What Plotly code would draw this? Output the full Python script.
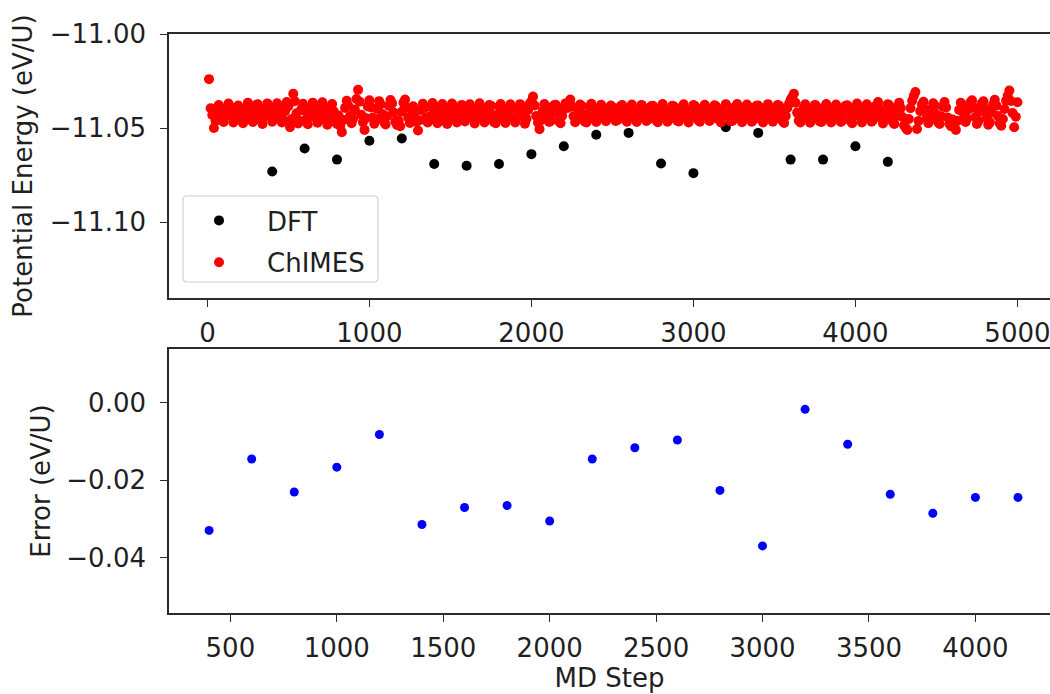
import plotly.graph_objects as go

# ---------------- data ----------------
dft_steps = [400, 600, 800, 1000, 1200, 1400, 1600, 1800, 2000, 2200,
             2400, 2600, 2800, 3000, 3200, 3400, 3600, 3800, 4000, 4200]
dft_energy = [-11.0731, -11.0609, -11.0668, -11.0568, -11.0556, -11.0691, -11.0701, -11.0691, -11.0639, -11.0597,
              -11.0536, -11.0526, -11.0689, -11.0740, -11.0496, -11.0526, -11.0668, -11.0668, -11.0597, -11.0680]

chimes_steps = list(range(10, 5001, 10))
chimes_energy = [
    -11.0240, -11.0395, -11.0430, -11.0500, -11.0462, -11.0418, -11.0378, -11.0401, -11.0447, -11.0468,
    -11.0440, -11.0392, -11.0370, -11.0385, -11.0432, -11.0471, -11.0455, -11.0412, -11.0380, -11.0398,
    -11.0446, -11.0474, -11.0437, -11.0390, -11.0366, -11.0402, -11.0451, -11.0468, -11.0427, -11.0379,
    -11.0373, -11.0415, -11.0460, -11.0478, -11.0440, -11.0396, -11.0369, -11.0388, -11.0436, -11.0466,
    -11.0449, -11.0405, -11.0368, -11.0380, -11.0428, -11.0470, -11.0458, -11.0410, -11.0362, -11.0384,
    -11.0495, -11.0452, -11.0318, -11.0358, -11.0421, -11.0476, -11.0463, -11.0400, -11.0371, -11.0409,
    -11.0455, -11.0480, -11.0438, -11.0387, -11.0365, -11.0398, -11.0447, -11.0472, -11.0430, -11.0376,
    -11.0363, -11.0406, -11.0459, -11.0483, -11.0441, -11.0390, -11.0372, -11.0411, -11.0466, -11.0479,
    -11.0433, -11.0489, -11.0522, -11.0457, -11.0393, -11.0355, -11.0382, -11.0436, -11.0475, -11.0450,
    -11.0402, -11.0346, -11.0297, -11.0360, -11.0429, -11.0469, -11.0510, -11.0448, -11.0385, -11.0352,
    -11.0390, -11.0444, -11.0477, -11.0452, -11.0398, -11.0357, -11.0374, -11.0425, -11.0468, -11.0481,
    -11.0437, -11.0382, -11.0351, -11.0369, -11.0418, -11.0466, -11.0484, -11.0460, -11.0490, -11.0413,
    -11.0366, -11.0348, -11.0392, -11.0446, -11.0473, -11.0435, -11.0384, -11.0417, -11.0468, -11.0513,
    -11.0459, -11.0404, -11.0371, -11.0393, -11.0445, -11.0470, -11.0439, -11.0386, -11.0367, -11.0412,
    -11.0458, -11.0474, -11.0431, -11.0383, -11.0372, -11.0414, -11.0462, -11.0478, -11.0442, -11.0394,
    -11.0370, -11.0401, -11.0450, -11.0471, -11.0436, -11.0388, -11.0377, -11.0420, -11.0465, -11.0447,
    -11.0403, -11.0374, -11.0396, -11.0443, -11.0476, -11.0452, -11.0405, -11.0368, -11.0389, -11.0438,
    -11.0470, -11.0457, -11.0411, -11.0378, -11.0381, -11.0429, -11.0469, -11.0475, -11.0432, -11.0386,
    -11.0372, -11.0408, -11.0455, -11.0473, -11.0439, -11.0395, -11.0374, -11.0399, -11.0448, -11.0470,
    -11.0446, -11.0400, -11.0373, -11.0392, -11.0440, -11.0477, -11.0451, -11.0404, -11.0370, -11.0358,
    -11.0333, -11.0380, -11.0436, -11.0471, -11.0506, -11.0458, -11.0409, -11.0372, -11.0385, -11.0430,
    -11.0468, -11.0461, -11.0416, -11.0379, -11.0376, -11.0421, -11.0463, -11.0474, -11.0435, -11.0391,
    -11.0369, -11.0394, -11.0371, -11.0348, -11.0386, -11.0437, -11.0469, -11.0452, -11.0407, -11.0375,
    -11.0382, -11.0427, -11.0466, -11.0471, -11.0430, -11.0387, -11.0371, -11.0406, -11.0452, -11.0468,
    -11.0441, -11.0397, -11.0376, -11.0393, -11.0439, -11.0464, -11.0449, -11.0408, -11.0380, -11.0389,
    -11.0428, -11.0462, -11.0458, -11.0419, -11.0384, -11.0378, -11.0417, -11.0456, -11.0467, -11.0433,
    -11.0394, -11.0375, -11.0401, -11.0445, -11.0468, -11.0446, -11.0403, -11.0377, -11.0391, -11.0434,
    -11.0463, -11.0455, -11.0415, -11.0383, -11.0382, -11.0422, -11.0460, -11.0469, -11.0431, -11.0390,
    -11.0372, -11.0399, -11.0442, -11.0467, -11.0450, -11.0410, -11.0381, -11.0386, -11.0426, -11.0461,
    -11.0465, -11.0429, -11.0389, -11.0374, -11.0403, -11.0446, -11.0470, -11.0447, -11.0404, -11.0378,
    -11.0383, -11.0423, -11.0459, -11.0466, -11.0432, -11.0392, -11.0376, -11.0398, -11.0440, -11.0463,
    -11.0451, -11.0412, -11.0379, -11.0384, -11.0421, -11.0458, -11.0471, -11.0438, -11.0396, -11.0373,
    -11.0387, -11.0430, -11.0464, -11.0462, -11.0424, -11.0385, -11.0372, -11.0405, -11.0448, -11.0469,
    -11.0443, -11.0402, -11.0375, -11.0388, -11.0433, -11.0467, -11.0457, -11.0416, -11.0381, -11.0380,
    -11.0419, -11.0456, -11.0470, -11.0441, -11.0399, -11.0373, -11.0392, -11.0437, -11.0466, -11.0452,
    -11.0411, -11.0378, -11.0382, -11.0425, -11.0463, -11.0473, -11.0436, -11.0393, -11.0371, -11.0350,
    -11.0335, -11.0318, -11.0366, -11.0418, -11.0460, -11.0470, -11.0439, -11.0395, -11.0374, -11.0401,
    -11.0447, -11.0472, -11.0450, -11.0406, -11.0377, -11.0386, -11.0429, -11.0465, -11.0468, -11.0427,
    -11.0388, -11.0372, -11.0404, -11.0449, -11.0471, -11.0445, -11.0400, -11.0375, -11.0390, -11.0436,
    -11.0468, -11.0460, -11.0418, -11.0381, -11.0379, -11.0420, -11.0462, -11.0474, -11.0434, -11.0390,
    -11.0370, -11.0397, -11.0443, -11.0470, -11.0448, -11.0405, -11.0374, -11.0387, -11.0432, -11.0467,
    -11.0456, -11.0413, -11.0378, -11.0362, -11.0398, -11.0446, -11.0476, -11.0451, -11.0407, -11.0373,
    -11.0380, -11.0424, -11.0466, -11.0478, -11.0437, -11.0390, -11.0366, -11.0394, -11.0441, -11.0485,
    -11.0498, -11.0510, -11.0452, -11.0394, -11.0355, -11.0330, -11.0309, -11.0505, -11.0462, -11.0410,
    -11.0375, -11.0360, -11.0399, -11.0446, -11.0474, -11.0448, -11.0401, -11.0368, -11.0382, -11.0430,
    -11.0469, -11.0479, -11.0438, -11.0386, -11.0362, -11.0391, -11.0444, -11.0477, -11.0490, -11.0455,
    -11.0486, -11.0510, -11.0461, -11.0404, -11.0366, -11.0378, -11.0425, -11.0468, -11.0450, -11.0400,
    -11.0363, -11.0352, -11.0390, -11.0441, -11.0478, -11.0462, -11.0412, -11.0369, -11.0358, -11.0396,
    -11.0447, -11.0483, -11.0470, -11.0419, -11.0374, -11.0350, -11.0381, -11.0436, -11.0475, -11.0488,
    -11.0452, -11.0399, -11.0355, -11.0328, -11.0300, -11.0356, -11.0420, -11.0496, -11.0440, -11.0363,
]

error_steps = dft_steps
error_values = [-0.0329, -0.0145, -0.0230, -0.0166, -0.0082, -0.0314, -0.0270, -0.0265, -0.0305, -0.0145,
                -0.0116, -0.0096, -0.0226, -0.0369, -0.0017, -0.0107, -0.0236, -0.0285, -0.0244, -0.0244]

top_xticks = [0, 1000, 2000, 3000, 4000, 5000]
top_yticks = [-11.00, -11.05, -11.10]
top_yticklabels = ["\u221211.00", "\u221211.05", "\u221211.10"]
bot_xticks = [500, 1000, 1500, 2000, 2500, 3000, 3500, 4000]
bot_yticks = [0.00, -0.02, -0.04]
bot_yticklabels = ["0.00", "\u22120.02", "\u22120.04"]

# ---------------- figure ----------------
FONT = "DejaVu Sans"
FS = 26
TXT = "#1f1f1f"
AX = "#2b2b2b"
W, H = 1050, 694
ML, MR, MT, MB = 169, 0, 34, 81
PW, PH = W - ML - MR, H - MT - MB


def px_x(px):  # figure pixel -> paper x
    return (px - ML) / PW


def px_y(py):  # figure pixel -> paper y
    return (H - MB - py) / PH


fig = go.Figure()
fig.add_trace(go.Scatter(x=dft_steps, y=dft_energy, mode="markers", name="DFT",
                         marker=dict(color="black", size=10, line=dict(width=0)),
                         legendgroup="a", xaxis="x", yaxis="y"))
fig.add_trace(go.Scatter(x=chimes_steps, y=chimes_energy, mode="markers", name="ChIMES",
                         marker=dict(color="#ff0000", size=10, line=dict(width=0)),
                         legendgroup="b", xaxis="x", yaxis="y"))
fig.add_trace(go.Scatter(x=error_steps, y=error_values, mode="markers", showlegend=False,
                         marker=dict(color="#0000ff", size=9, line=dict(width=0)),
                         xaxis="x2", yaxis="y2"))

common = dict(showline=True, linecolor=AX, linewidth=1.6, ticks="outside", ticklen=7,
              tickwidth=1.4, tickcolor=AX, showgrid=False, zeroline=False, automargin=False,
              ticklabeloverflow="allow",
              tickfont=dict(family=FONT, size=FS, color=TXT))

# legend frame (rounded rectangle) drawn as a shape
lx0, lx1, ly0, ly1 = px_x(183), px_x(378), px_y(282), px_y(196)
rx, ry = 4 / PW, 4 / PH
legend_path = (f"M {lx0+rx},{ly0} L {lx1-rx},{ly0} Q {lx1},{ly0} {lx1},{ly0+ry} "
               f"L {lx1},{ly1-ry} Q {lx1},{ly1} {lx1-rx},{ly1} L {lx0+rx},{ly1} "
               f"Q {lx0},{ly1} {lx0},{ly1-ry} L {lx0},{ly0+ry} Q {lx0},{ly0} {lx0+rx},{ly0} Z")

fig.update_layout(
    width=W, height=H,
    margin=dict(l=ML, r=MR, t=MT, b=MB, autoexpand=False),
    paper_bgcolor="white", plot_bgcolor="white",
    font=dict(family=FONT, size=FS, color=TXT),
    showlegend=True,
    legend=dict(x=px_x(171), y=px_y(197), xanchor="left", yanchor="top",
                bgcolor="rgba(0,0,0,0)", borderwidth=0,
                font=dict(family=FONT, size=FS, color=TXT), tracegroupgap=5,
                itemwidth=86),
    shapes=[dict(type="path", xref="paper", yref="paper", path=legend_path,
                 fillcolor="rgba(255,255,255,0.8)", line=dict(color="#d0d0d0", width=1.2),
                 layer="above")],
    xaxis=dict(domain=[0, 1], anchor="y", range=[-237, 5201], tickvals=top_xticks,
               mirror=True, ticklabelstandoff=4, **common),
    yaxis=dict(domain=[0.544, 1], anchor="x", range=[-11.1404, -11.0], tickvals=top_yticks,
               ticktext=top_yticklabels, mirror=False, ticklabelstandoff=9,
               title=dict(text="Potential Energy (eV/U)", standoff=10,
                          font=dict(family=FONT, size=FS, color=TXT)), **common),
    xaxis2=dict(domain=[0, 1], anchor="y2", range=[211.6, 4350.5], tickvals=bot_xticks,
                mirror=True, ticklabelstandoff=4,
                title=dict(text="MD Step", standoff=6, font=dict(family=FONT, size=FS, color=TXT)),
                **common),
    yaxis2=dict(domain=[0, 0.456], anchor="x2", range=[-0.0542, 0.01386], tickvals=bot_yticks,
                ticktext=bot_yticklabels, mirror=False, ticklabelstandoff=9,
                title=dict(text="Error (eV/U)", standoff=8,
                           font=dict(family=FONT, size=FS, color=TXT)), **common),
)

# remove the default 8px page margin so the 1050x694 figure fills the window exactly
fig.write_html("out.html", config={"displayModeBar": False},
               post_script="document.body.style.margin='0';document.body.style.overflow='hidden';")
